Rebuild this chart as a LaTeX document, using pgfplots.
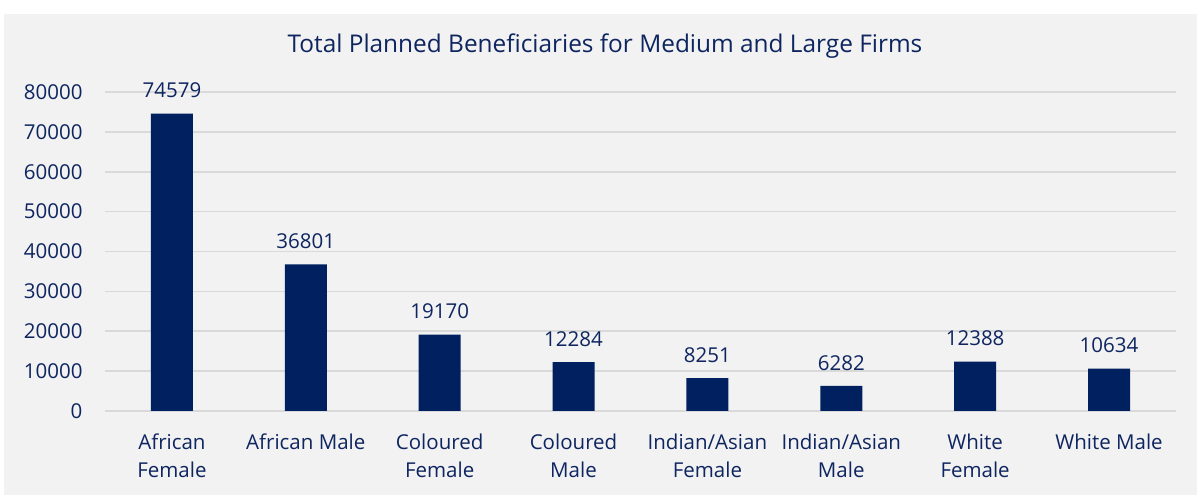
\documentclass[border=0pt]{standalone}
\usepackage{pgfplots}
\pgfplotsset{compat=1.18}
\usepackage{fontspec}
\setmainfont{Open Sans}
\definecolor{bg}{HTML}{F2F2F2}
\definecolor{gridc}{HTML}{D9D9D9}
\definecolor{barc}{HTML}{002060}
\definecolor{txt}{HTML}{0E2560}
\begin{document}
\begin{tikzpicture}[x=1pt,y=1pt]
\fill[white] (0,0) rectangle (1201,495);
\fill[bg] (4,0) rectangle (1197,481);
\node[text=txt, font=\fontsize{24.4}{28}\selectfont] at (605,449) {Total Planned Beneficiaries for Medium and Large Firms};
\begin{axis}[
  at={(105pt,84pt)}, anchor=south west,
  scale only axis, width=1071pt, height=319pt,
  xmin=-0.5, xmax=7.5, ymin=0, ymax=80000,
  axis line style={draw=none},
  axis x line*=bottom,
  ytick={0,10000,...,80000},
  xtick={0,...,7},
  xticklabels={{African\\Female},{African Male},{Coloured\\Female},{Coloured\\Male},{Indian/Asian\\Female},{Indian/Asian\\Male},{White\\Female},{White Male}},
  xticklabel style={align=center, text=txt, font=\fontsize{20.5}{28}\selectfont, yshift=-19pt},
  yticklabel style={text=txt, font=\fontsize{20.5}{24}\selectfont, xshift=-19pt},
  /pgf/number format/assume math mode=true,
  /pgf/number format/1000 sep={},
  scaled y ticks=false,
  major tick length=0pt,
  ymajorgrids, grid style={gridc, line width=1.5pt},
  ybar, bar width=42pt,
  nodes near coords,
  nodes near coords style={text=txt, font=\fontsize{20.5}{24}\selectfont, /pgf/number format/fixed, /pgf/number format/1000 sep={}, yshift=12pt},
  clip=false,
]
\addplot[fill=barc, draw=none] coordinates {(0,74579) (1,36801) (2,19170) (3,12284) (4,8251) (5,6282) (6,12388) (7,10634)};
\end{axis}
\end{tikzpicture}
\end{document}
